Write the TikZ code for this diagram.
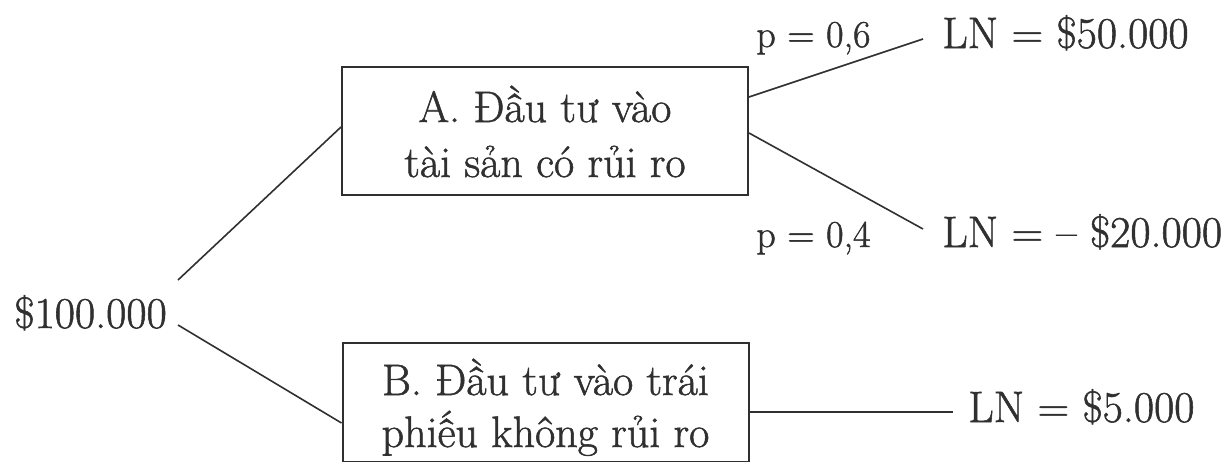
\documentclass[tikz,border=0pt]{standalone}
\usepackage{fontspec}
\setmainfont{Latin Modern Roman}[FakeBold=1.2]
\usetikzlibrary{calc}
\definecolor{ink}{HTML}{303030}
\begin{document}
\begin{tikzpicture}[x=0.5pt,y=-0.5pt,
  txt/.style={font=\fontsize{22pt}{26pt}\selectfont, text=ink, inner sep=0pt, anchor=base west},
  ptxt/.style={txt, font=\fontsize{19pt}{23pt}\selectfont},
  box/.style={draw=ink, line width=1pt, inner sep=0pt, align=center, text=ink, text depth=0pt},
  link/.style={draw=ink, line width=0.8pt}]
\useasboundingbox (0,0) rectangle (1222,461);
\clip (0,0) rectangle (1222,461);

% boxes
\node[box, minimum width=203pt, minimum height=64pt, text height=46pt,
      font=\fontsize{22pt}{27.5pt}\selectfont] (A) at (545,131)
      {A. Đầu tư vào\\tài sản có rủi ro};
\node[box, minimum width=203pt, minimum height=59.5pt, text height=44.5pt,
      font=\fontsize{22pt}{26pt}\selectfont] (B) at (545.5,402.5)
      {B. Đầu tư vào trái\\phiếu không rủi ro};

% labels
\node[txt] (root) at (14,328) {\$100.000};
\node[ptxt] (p6) at (756,47) {p = 0,6};
\node[txt] (ln50) at (942,48) {LN = \$50.000};
\node[ptxt] (p4) at (756,247) {p = 0,4};
\node[txt] (ln20) at (942,247) {LN = – \$20.000};
\node[txt] (ln5) at (968,422) {LN = \$5.000};

% connector free ends
\coordinate (r1) at (178,280);
\coordinate (r2) at (178,325);
\coordinate (e50) at (923,39);
\coordinate (e20) at (923,229);
\coordinate (e5) at (953,412);

% connectors
\draw[link] (r1) -- ($(A.west)+(0,-4)$);
\draw[link] (r2) -- ($(B.west)+(0,20.5)$);
\draw[link] ($(A.east)+(0,-34)$) -- (e50);
\draw[link] ($(A.east)+(0,2)$) -- (e20);
\draw[link] ($(B.east)+(0,9.5)$) -- (e5);
\end{tikzpicture}
\end{document}
